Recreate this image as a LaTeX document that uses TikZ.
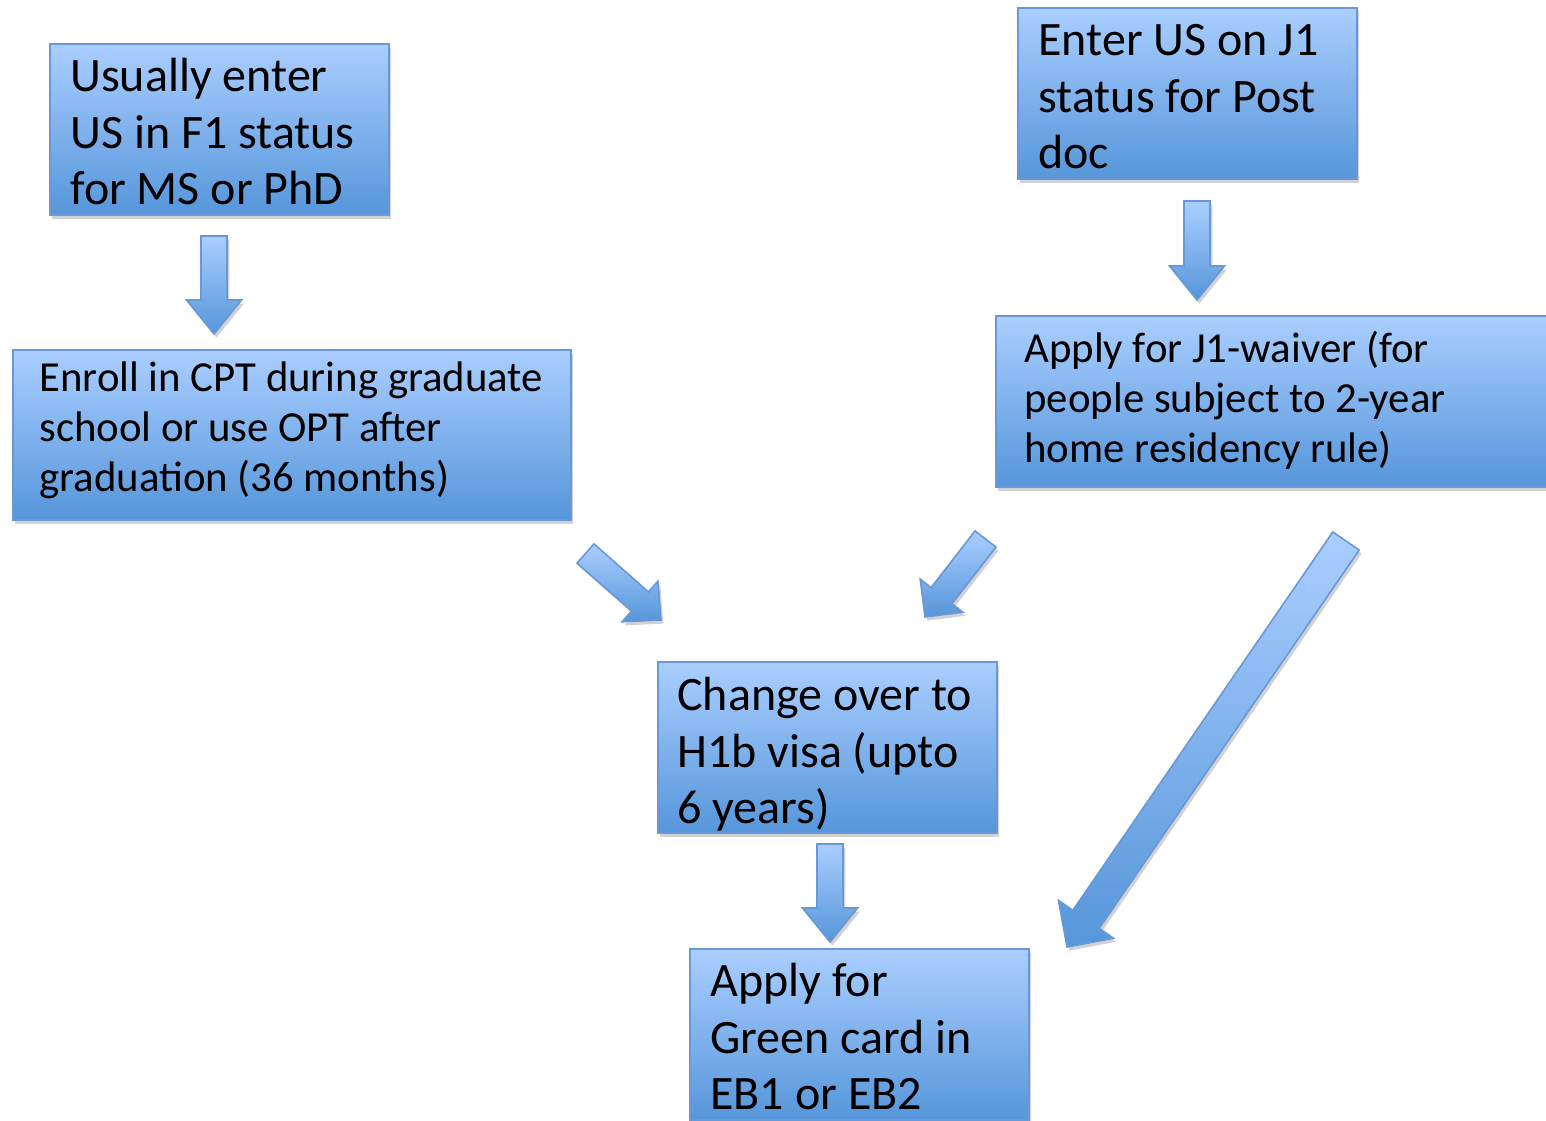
\documentclass[tikz,border=0pt]{standalone}
\usepackage{fontspec}
\setmainfont{Carlito}
\usetikzlibrary{calc,shadows}
\definecolor{boxtop}{RGB}{170,206,255}
\definecolor{boxbot}{RGB}{86,150,218}
\definecolor{boxline}{RGB}{104,152,214}
\tikzset{
  softshadow/.style={drop shadow={shadow xshift=1.2pt, shadow yshift=-1.8pt, opacity=0.3, fill=black!60}},
  box/.style={rectangle, draw=boxline, line width=0.9pt, top color=boxtop, bottom color=boxbot,
    inner sep=0pt, anchor=north west, softshadow},
  bigtxt/.style={anchor=north west, inner sep=0pt, align=left, text=black,
    font=\fontsize{24pt}{28.3pt}\selectfont},
  smalltxt/.style={anchor=north west, inner sep=0pt, align=left, text=black,
    font=\fontsize{21.4pt}{25pt}\selectfont},
  blockarrow/.style={draw=boxline, line width=0.8pt, top color=boxtop, bottom color=boxbot, softshadow, line join=miter}
}
% tail, tip, half shaft width, half head width, head length, helper name
\newcommand\blockarr[6]{%
  \coordinate (#6) at ($(#2)!#5!(#1)$);
  \path[blockarrow] ($(#1)!#3!90:(#2)$) -- ($(#6)!#3!90:(#2)$) -- ($(#6)!#4!90:(#2)$) -- (#2)
    -- ($(#6)!#4!-90:(#2)$) -- ($(#6)!#3!-90:(#2)$) -- ($(#1)!#3!-90:(#2)$) -- cycle;}
\begin{document}
\begin{tikzpicture}[x=0.5pt,y=-0.5pt]
\useasboundingbox (0,0) rectangle (1546,1120);
% boxes
\node[box, minimum width=169.5pt, minimum height=85.5pt] (b1) at (49,43) {};
\node[box, minimum width=279pt, minimum height=85pt] (b2) at (12,349) {};
\node[box, minimum width=169.5pt, minimum height=85.5pt] (b3) at (1017,7) {};
\node[box, minimum width=285pt, minimum height=85.5pt] (b4) at (995,315) {};
\node[box, minimum width=169.5pt, minimum height=85.5pt] (b5) at (657,661) {};
\node[box, minimum width=169.5pt, minimum height=85.5pt] (b6) at (689,948) {};
% texts
\node[bigtxt] (t1) at (70,50.2) {\rule{0pt}{0.85em}Usually enter\\US in F1 status\\for MS or PhD};
\node[smalltxt] (t2) at (39,354.6) {\rule{0pt}{0.85em}Enroll in CPT during graduate\\school or use OPT after\\graduation (36 months)};
\node[bigtxt] (t3) at (1038,14.2) {\rule{0pt}{0.85em}Enter US on J1\\status for Post\\doc};
\node[smalltxt] (t4) at (1024,325.6) {\rule{0pt}{0.85em}Apply for J1-waiver (for\\people subject to 2-year\\home residency rule)};
\node[bigtxt] (t5) at (677,669.2) {\rule{0pt}{0.85em}Change over to\\H1b visa (upto\\6 years)};
\node[bigtxt] (t6) at (710,955.2) {\rule{0pt}{0.85em}Apply for\\Green card in\\EB1 or EB2};
% arrow end points
\coordinate (a1s) at (214,236);   \coordinate (a1e) at (214,334);
\coordinate (a2s) at (1197,201);  \coordinate (a2e) at (1197,300);
\coordinate (a3s) at (830,844);   \coordinate (a3e) at (830,942);
\coordinate (a4s) at (585.5,553.5); \coordinate (a4e) at (661,620);
\coordinate (a5s) at (985.5,539); \coordinate (a5e) at (925,617);
\coordinate (a6s) at (1346,541);  \coordinate (a6e) at (1067,947);
% block arrows
\blockarr{a1s}{a1e}{6.5pt}{13.75pt}{17pt}{h1}
\blockarr{a2s}{a2e}{6.5pt}{13.75pt}{17pt}{h2}
\blockarr{a3s}{a3e}{6.5pt}{13.75pt}{17pt}{h3}
\blockarr{a4s}{a4e}{6.4pt}{13.5pt}{14pt}{h4}
\blockarr{a5s}{a5e}{6.6pt}{13.5pt}{13.5pt}{h5}
\blockarr{a6s}{a6e}{8pt}{16.7pt}{16.8pt}{h6}
\end{tikzpicture}
\end{document}
